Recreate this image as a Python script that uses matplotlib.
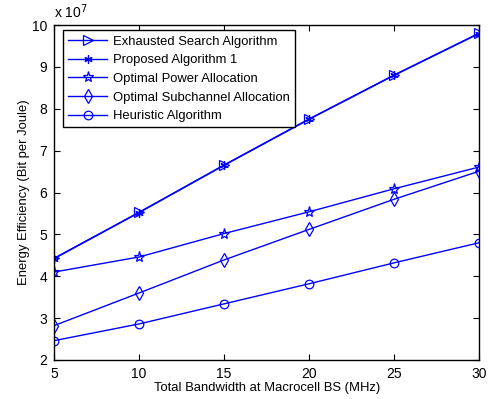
import matplotlib
matplotlib.use("Agg")
import matplotlib.pyplot as plt
import numpy as np

plt.rcParams['font.family'] = ['Liberation Sans', 'DejaVu Sans']

bandwidth = [5, 10, 15, 20, 25, 30]
exhausted = [4.43, 5.53, 6.66, 7.76, 8.81, 9.81]
proposed = [4.42, 5.52, 6.65, 7.75, 8.80, 9.80]
opt_power = [4.10, 4.46, 5.02, 5.54, 6.09, 6.61]
opt_subch = [2.82, 3.60, 4.39, 5.12, 5.84, 6.51]
heuristic = [2.46, 2.86, 3.34, 3.82, 4.32, 4.80]

labels = ['Exhausted Search Algorithm', 'Proposed Algorithm 1',
          'Optimal Power Allocation', 'Optimal Subchannel Allocation',
          'Heuristic Algorithm']

fig = plt.figure(figsize=(4.88, 3.99), dpi=100)
ax = fig.add_axes([0.111, 0.098, 0.871, 0.839])

blue = '#0000ff'
series = [exhausted, proposed, opt_power, opt_subch, heuristic]
styles = [
    dict(marker='>', ms=6.5),
    dict(marker=(6, 2, 0), ms=6),
    dict(marker='*', ms=8),
    dict(marker='d', ms=7),
    dict(marker='o', ms=6.2),
]
for vals, lab, st in zip(series, labels, styles):
    ax.plot(bandwidth, np.array(vals) * 1e7, color=blue, lw=1, mec=blue,
            mfc='none', mew=0.9, label=lab, **st)

ax.set_xlim(5, 30)
ax.set_ylim(2e7, 10e7)
ax.set_xticks([5, 10, 15, 20, 25, 30])
ax.set_yticks(np.arange(2, 11) * 1e7)
ax.set_yticklabels([str(v) for v in range(2, 11)])
ax.tick_params(direction='in', top=True, right=True, labelsize=10, length=4,
               pad=5)
for s in ax.spines.values():
    s.set_linewidth(1)
ax.text(0.0, 1.012, r'x 10$^7$', transform=ax.transAxes, fontsize=10,
        ha='left', va='bottom')

ax.set_xlabel('Total Bandwidth at Macrocell BS (MHz)', fontsize=9.4, labelpad=1)
ax.set_ylabel('Energy Efficiency (Bit per Joule)', fontsize=9.4, labelpad=1.5)

leg = ax.legend(loc='upper left', fontsize=9.4, fancybox=False, framealpha=1,
                edgecolor='black', borderpad=0.4, labelspacing=0.5,
                handlelength=3.0, handletextpad=0.45, borderaxespad=0,
                bbox_to_anchor=(0.021, 0.985))
leg.get_frame().set_linewidth(1)

fig.savefig('out.png', dpi=100)
